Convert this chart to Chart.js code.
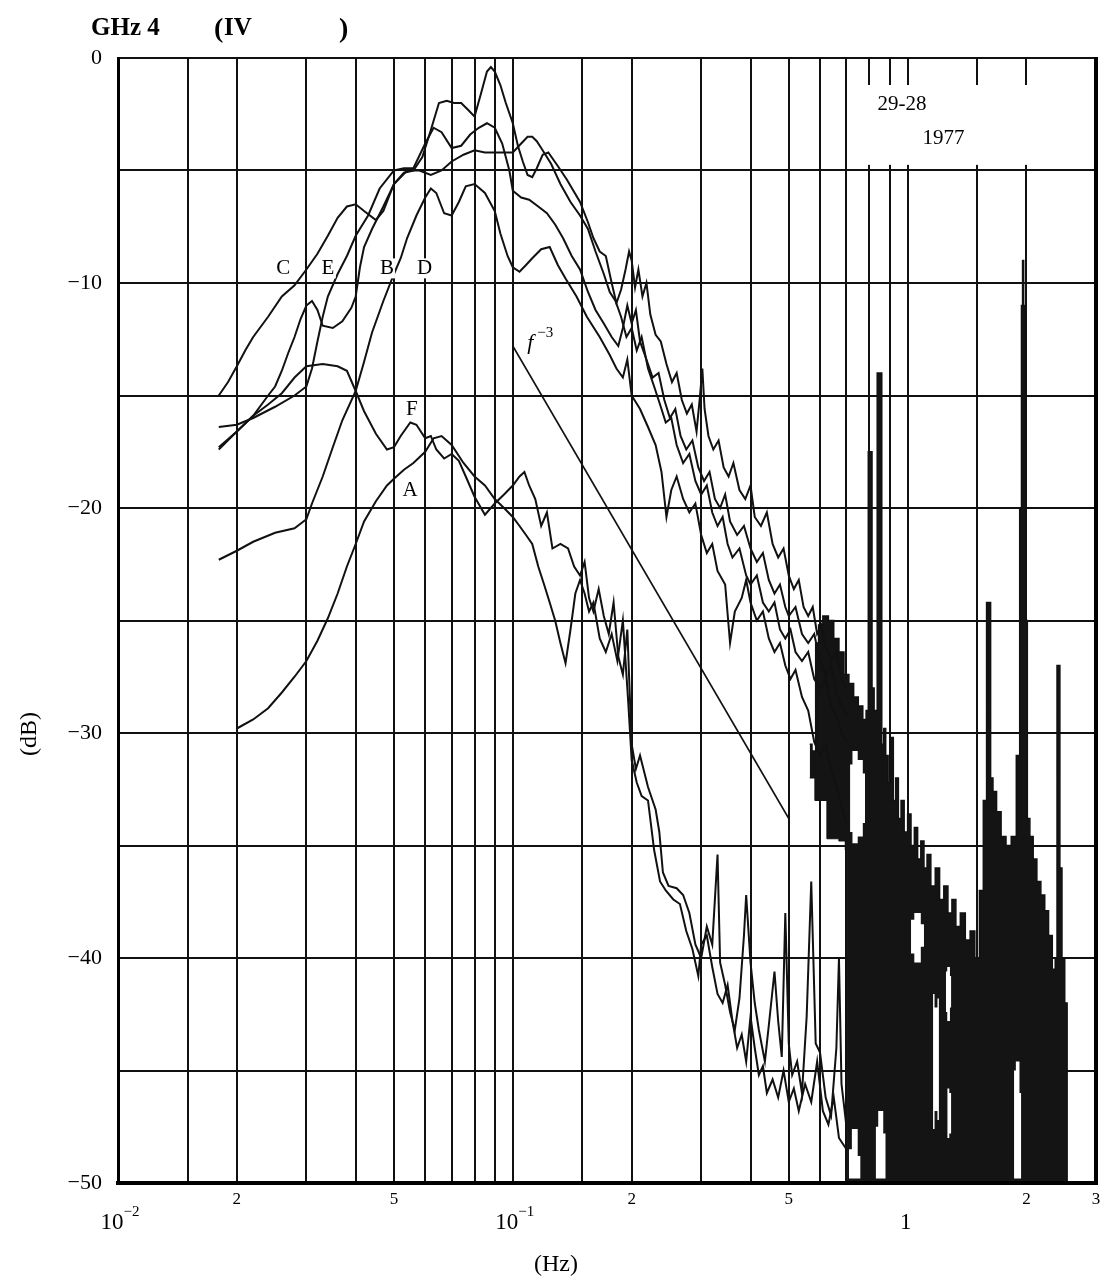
<!DOCTYPE html>
<html>
<head>
<meta charset="utf-8">
<script src="https://cdn.jsdelivr.net/npm/chart.js@4.4.0/dist/chart.umd.min.js"></script>
<style>
  html, body { margin: 0; padding: 0; background: #fff; }
</style>
</head>
<body>
<canvas id="c" width="1105" height="1282"></canvas>
<script>
const serif = '"Liberation Serif", "Times New Roman", serif';

// vertical grid lines (Hz)
const gridFreqs = [0.01,0.015,0.02,0.03,0.04,0.05,0.06,0.07,0.08,0.09,0.1,0.15,0.2,0.3,0.4,0.5,0.6,0.7,0.8,0.9,1,1.5,2,3];
// x tick labels
const xLabelVals = [0.01,0.02,0.05,0.1,0.2,0.5,1,2,3];
const xLabelText = ['10','2','5','10','2','5','1','2','3'];
const xLabelSup  = ['\u22122','','','\u22121','','','','',''];

// spectra [Hz, dB]
const curveC = [[0.018,-15],[0.019,-14.4],[0.02,-13.7],[0.021,-13.0],[0.022,-12.4],[0.024,-11.5],[0.026,-10.6],[0.028,-10.1],[0.03,-9.4],[0.032,-8.7],[0.034,-7.9],[0.036,-7.1],[0.038,-6.6],[0.04,-6.5],[0.042,-6.8],[0.045,-7.2],[0.047,-6.8],[0.05,-5.6],[0.053,-5.1],[0.056,-5.0],[0.059,-4.4],[0.062,-3.2],[0.065,-2.0],[0.068,-1.9],[0.071,-2.0],[0.074,-2.0],[0.077,-2.3],[0.08,-2.6],[0.083,-1.6],[0.086,-0.6],[0.088,-0.4],[0.09,-0.6],[0.093,-1.2],[0.096,-2.0],[0.1,-2.9],[0.103,-3.9],[0.106,-4.6],[0.109,-5.2],[0.112,-5.3],[0.115,-4.9],[0.119,-4.3],[0.123,-4.2],[0.13,-4.8],[0.137,-5.4],[0.148,-6.4],[0.155,-7.3],[0.16,-8.0],[0.166,-8.6],[0.172,-8.8],[0.178,-10.0],[0.183,-10.9],[0.188,-10.3],[0.193,-9.4],[0.197,-8.6],[0.2,-9.0],[0.204,-10.2],[0.208,-9.4],[0.213,-10.6],[0.218,-10.0],[0.223,-11.4],[0.23,-12.3],[0.237,-12.6],[0.245,-13.6],[0.253,-14.4],[0.26,-14.0],[0.268,-15.2],[0.276,-15.8],[0.284,-15.4],[0.292,-16.6],[0.298,-15.0],[0.302,-13.8],[0.306,-15.6],[0.313,-16.8],[0.322,-17.4],[0.332,-17.0],[0.342,-18.2],[0.352,-18.6],[0.362,-18.0],[0.375,-19.2],[0.388,-19.6],[0.4,-19.0],[0.41,-20.4],[0.425,-20.8],[0.44,-20.2],[0.455,-21.6],[0.47,-22.2],[0.485,-21.8],[0.5,-23.0],[0.515,-23.6],[0.53,-23.2],[0.545,-24.4],[0.56,-24.8],[0.575,-24.4],[0.59,-25.6],[0.605,-25.2],[0.62,-26.2],[0.64,-26.8],[0.66,-26.4],[0.68,-27.6],[0.7,-28.0]];
const curveE = [[0.018,-16.4],[0.02,-16.3],[0.022,-16.0],[0.025,-15.5],[0.028,-15.0],[0.03,-14.6],[0.031,-13.8],[0.032,-12.6],[0.033,-11.5],[0.034,-10.6],[0.036,-9.6],[0.038,-8.8],[0.04,-7.9],[0.043,-7.0],[0.046,-5.8],[0.05,-5.0],[0.053,-4.9],[0.056,-4.9],[0.06,-3.8],[0.063,-3.1],[0.066,-3.3],[0.07,-4.0],[0.074,-3.9],[0.078,-3.4],[0.082,-3.1],[0.086,-2.9],[0.09,-3.1],[0.094,-3.8],[0.098,-5.0],[0.1,-5.9],[0.105,-6.2],[0.11,-6.3],[0.116,-6.6],[0.122,-6.9],[0.128,-7.4],[0.134,-8.0],[0.141,-8.8],[0.148,-9.4],[0.155,-10.4],[0.162,-11.2],[0.17,-11.8],[0.178,-12.4],[0.185,-12.8],[0.19,-12.0],[0.195,-11.0],[0.2,-11.8],[0.205,-11.2],[0.21,-12.6],[0.218,-13.4],[0.226,-14.2],[0.234,-14.0],[0.242,-15.2],[0.25,-16.0],[0.258,-15.6],[0.266,-16.8],[0.275,-17.4],[0.285,-17.0],[0.295,-18.2],[0.305,-18.8],[0.315,-18.4],[0.325,-19.6],[0.335,-20.0],[0.345,-19.4],[0.355,-20.6],[0.37,-21.2],[0.385,-20.8],[0.4,-21.8],[0.415,-22.4],[0.43,-22.0],[0.445,-23.2],[0.46,-23.8],[0.475,-23.4],[0.49,-24.4],[0.5,-24.8],[0.52,-24.4],[0.54,-25.6],[0.56,-26.0],[0.58,-25.6],[0.6,-26.8],[0.62,-27.4],[0.64,-27.0],[0.66,-28.2],[0.68,-28.8],[0.7,-29.2]];
const curveD = [[0.018,-17.4],[0.02,-16.6],[0.022,-15.9],[0.024,-15.0],[0.025,-14.6],[0.026,-13.9],[0.027,-13.1],[0.028,-12.4],[0.029,-11.6],[0.03,-11.0],[0.031,-10.8],[0.032,-11.2],[0.033,-11.9],[0.035,-12.0],[0.037,-11.7],[0.039,-11.1],[0.04,-10.6],[0.041,-9.3],[0.042,-8.4],[0.044,-7.6],[0.047,-6.6],[0.05,-5.6],[0.054,-5.0],[0.058,-5.0],[0.062,-5.2],[0.066,-5.0],[0.07,-4.6],[0.075,-4.3],[0.08,-4.1],[0.085,-4.2],[0.09,-4.2],[0.095,-4.2],[0.1,-4.2],[0.105,-3.8],[0.109,-3.5],[0.112,-3.5],[0.115,-3.7],[0.118,-4.0],[0.125,-4.7],[0.132,-5.6],[0.14,-6.4],[0.148,-7.0],[0.155,-7.6],[0.162,-8.6],[0.17,-9.6],[0.176,-10.4],[0.182,-10.8],[0.188,-11.5],[0.194,-12.4],[0.2,-12.0],[0.206,-13.0],[0.212,-12.4],[0.22,-13.8],[0.228,-14.6],[0.236,-15.4],[0.244,-16.2],[0.252,-16.0],[0.26,-17.2],[0.27,-18.0],[0.28,-17.6],[0.29,-18.8],[0.3,-19.4],[0.31,-19.0],[0.32,-20.2],[0.33,-20.8],[0.34,-20.4],[0.35,-21.6],[0.36,-22.2],[0.375,-21.8],[0.39,-23.0],[0.4,-23.4],[0.415,-23.0],[0.43,-24.2],[0.445,-24.6],[0.46,-24.2],[0.475,-25.4],[0.49,-25.8],[0.505,-25.4],[0.52,-26.4],[0.54,-26.8],[0.56,-26.4],[0.58,-27.6],[0.6,-28.0],[0.62,-27.6],[0.64,-28.8],[0.66,-29.2],[0.68,-30.0],[0.7,-30.4]];
const curveB = [[0.018,-22.3],[0.02,-21.9],[0.022,-21.5],[0.025,-21.1],[0.028,-20.9],[0.03,-20.5],[0.031,-19.8],[0.033,-18.6],[0.035,-17.3],[0.037,-16.1],[0.04,-14.8],[0.042,-13.5],[0.044,-12.2],[0.047,-10.8],[0.05,-9.6],[0.052,-8.9],[0.054,-8.0],[0.057,-7.0],[0.06,-6.2],[0.062,-5.8],[0.064,-6.0],[0.067,-6.9],[0.07,-7.0],[0.073,-6.4],[0.076,-5.7],[0.08,-5.6],[0.085,-6.0],[0.09,-6.8],[0.093,-7.8],[0.097,-8.8],[0.1,-9.3],[0.104,-9.5],[0.108,-9.2],[0.112,-8.9],[0.118,-8.5],[0.124,-8.4],[0.13,-9.2],[0.136,-9.8],[0.145,-10.6],[0.154,-11.5],[0.166,-12.4],[0.176,-13.2],[0.183,-13.8],[0.19,-14.2],[0.195,-13.4],[0.2,-15.0],[0.21,-15.6],[0.22,-16.4],[0.23,-17.2],[0.238,-18.4],[0.245,-20.4],[0.252,-19.2],[0.26,-18.6],[0.27,-19.6],[0.28,-20.2],[0.29,-19.8],[0.3,-21.2],[0.31,-22.0],[0.32,-21.6],[0.33,-22.8],[0.345,-23.4],[0.355,-26.0],[0.365,-24.6],[0.38,-24.0],[0.39,-23.2],[0.4,-24.2],[0.415,-25.0],[0.43,-24.6],[0.445,-25.8],[0.46,-26.4],[0.475,-26.0],[0.49,-27.0],[0.505,-27.6],[0.52,-27.2],[0.54,-28.4],[0.56,-29.0],[0.58,-30.4],[0.6,-31.0],[0.62,-30.6],[0.64,-31.6],[0.66,-32.4],[0.68,-33.2],[0.7,-34.0]];
const curveF = [[0.018,-17.3],[0.02,-16.6],[0.022,-15.9],[0.024,-15.4],[0.026,-14.9],[0.028,-14.2],[0.03,-13.7],[0.033,-13.6],[0.036,-13.7],[0.038,-13.9],[0.04,-14.8],[0.042,-15.7],[0.045,-16.7],[0.048,-17.4],[0.05,-17.3],[0.052,-16.8],[0.055,-16.2],[0.057,-16.3],[0.06,-16.9],[0.062,-16.8],[0.064,-17.4],[0.067,-17.8],[0.07,-17.6],[0.073,-17.9],[0.076,-18.6],[0.08,-19.5],[0.085,-20.3],[0.09,-19.8],[0.095,-19.4],[0.1,-19.0],[0.104,-18.6],[0.107,-18.4],[0.11,-19.0],[0.114,-19.6],[0.118,-20.8],[0.122,-20.2],[0.126,-21.8],[0.132,-21.6],[0.138,-21.8],[0.143,-22.6],[0.148,-23.0],[0.152,-22.4],[0.156,-24.0],[0.16,-24.6],[0.165,-23.6],[0.17,-24.8],[0.175,-25.6],[0.18,-24.2],[0.185,-26.6],[0.19,-27.4],[0.195,-25.4],[0.2,-30.5],[0.205,-31.6],[0.21,-31.0],[0.22,-32.4],[0.23,-33.4],[0.235,-34.4],[0.24,-36.2],[0.248,-36.8],[0.26,-36.9],[0.27,-37.2],[0.28,-38.0],[0.29,-39.4],[0.3,-40.0],[0.31,-38.6],[0.32,-39.4],[0.33,-35.4],[0.335,-40.2],[0.345,-41.2],[0.355,-42.4],[0.365,-43.2],[0.375,-41.8],[0.385,-39.0],[0.39,-37.2],[0.4,-40.2],[0.41,-42.0],[0.42,-43.2],[0.435,-44.6],[0.445,-43.0],[0.46,-40.6],[0.47,-42.8],[0.48,-44.4],[0.49,-38.0],[0.5,-43.8],[0.51,-45.2],[0.525,-44.6],[0.54,-46.0],[0.555,-42.6],[0.57,-36.6],[0.585,-43.8],[0.6,-44.2],[0.62,-46.2],[0.64,-47.0],[0.66,-44.0],[0.67,-40.0],[0.68,-45.6],[0.7,-47.5]];
const curveA = [[0.02,-29.8],[0.022,-29.4],[0.024,-28.9],[0.026,-28.2],[0.028,-27.5],[0.03,-26.8],[0.032,-25.9],[0.034,-24.9],[0.036,-23.8],[0.038,-22.6],[0.04,-21.6],[0.042,-20.6],[0.045,-19.7],[0.048,-19.0],[0.05,-18.7],[0.053,-18.3],[0.056,-18.0],[0.06,-17.5],[0.063,-16.9],[0.066,-16.8],[0.07,-17.2],[0.075,-18.0],[0.08,-18.6],[0.085,-19.0],[0.09,-19.6],[0.095,-20.0],[0.1,-20.4],[0.104,-20.8],[0.108,-21.2],[0.112,-21.6],[0.116,-22.6],[0.12,-23.4],[0.124,-24.2],[0.128,-25.0],[0.132,-26.0],[0.136,-26.9],[0.14,-25.4],[0.144,-23.8],[0.148,-23.2],[0.152,-23.8],[0.156,-24.6],[0.16,-24.2],[0.166,-25.8],[0.172,-26.4],[0.178,-25.6],[0.184,-26.8],[0.19,-25.0],[0.196,-28.6],[0.2,-31.2],[0.206,-32.2],[0.212,-32.8],[0.22,-33.0],[0.228,-35.2],[0.236,-36.6],[0.244,-37.0],[0.255,-37.4],[0.265,-37.6],[0.275,-38.8],[0.285,-39.6],[0.295,-40.8],[0.3,-39.4],[0.31,-39.0],[0.32,-40.4],[0.33,-41.6],[0.34,-42.0],[0.35,-41.2],[0.36,-42.8],[0.37,-44.0],[0.38,-43.4],[0.39,-44.6],[0.4,-42.6],[0.41,-44.0],[0.42,-45.2],[0.43,-44.8],[0.44,-46.0],[0.455,-45.4],[0.47,-46.2],[0.485,-45.0],[0.5,-46.4],[0.515,-45.8],[0.53,-46.8],[0.55,-45.6],[0.57,-46.4],[0.59,-44.6],[0.61,-46.8],[0.63,-47.4],[0.65,-46.2],[0.67,-48.0],[0.7,-48.5]];

// f^-3 reference line
const slopeLine = [[0.1,-12.8],[0.5,-33.8]];

// dense high-frequency part: upper and lower envelope
const bandTop = [[0.565,-30.5],[0.58,-30.8],[0.59,-26.0],[0.6,-25.2],[0.62,-24.8],[0.64,-25.0],[0.66,-25.8],[0.68,-26.4],[0.7,-27.4],[0.72,-27.8],[0.74,-28.4],[0.76,-28.8],[0.78,-29.4],[0.79,-29.0],[0.8,-17.5],[0.81,-17.5],[0.815,-28.0],[0.83,-29.0],[0.845,-14.0],[0.855,-14.0],[0.865,-30.5],[0.875,-29.8],[0.885,-31.0],[0.9,-32.2],[0.915,-30.2],[0.925,-33.0],[0.94,-32.0],[0.955,-33.8],[0.97,-33.0],[0.99,-34.4],[1.01,-33.6],[1.03,-35.0],[1.05,-34.2],[1.07,-35.6],[1.09,-34.8],[1.11,-36.0],[1.13,-35.4],[1.16,-36.8],[1.19,-36.0],[1.22,-37.4],[1.25,-36.8],[1.28,-38.0],[1.31,-37.4],[1.34,-38.6],[1.38,-38.0],[1.42,-39.2],[1.46,-38.8],[1.5,-40.0],[1.54,-37.0],[1.57,-33.0],[1.6,-24.2],[1.615,-24.2],[1.63,-32.0],[1.66,-32.6],[1.7,-33.5],[1.75,-34.6],[1.8,-35.0],[1.86,-34.6],[1.91,-31.0],[1.935,-20.0],[1.95,-11.0],[1.96,-9.0],[1.975,-11.0],[1.99,-17.0],[2.0,-25.0],[2.02,-33.8],[2.06,-34.6],[2.1,-35.6],[2.15,-36.6],[2.2,-37.2],[2.25,-37.9],[2.3,-39.0],[2.35,-40.5],[2.38,-40.0],[2.4,-27.0],[2.42,-27.0],[2.44,-36.0],[2.48,-40.0],[2.52,-42.0],[2.55,-50.0]];
const bandBottom = [[0.565,-32.0],[0.6,-33.0],[0.65,-34.7],[0.69,-34.8],[0.7,-35.2],[0.705,-50.0],[2.55,-50.0]];

// white gaps inside the dense part: [top edge, bottom edge]
const holes = [
  [[[0.715,-31.4],[0.735,-30.8],[0.76,-31.2],[0.78,-31.8]], [[0.715,-34.4],[0.735,-34.9],[0.76,-34.6],[0.78,-34.0]]],
  [[[1.02,-38.3],[1.06,-38.0],[1.1,-38.5]], [[1.02,-39.8],[1.06,-40.2],[1.1,-39.5]]],
  [[[1.25,-40.6],[1.27,-40.4],[1.29,-40.8]], [[1.25,-42.4],[1.27,-42.8],[1.29,-42.2]]],
  [[[1.16,-41.6],[1.18,-42.2],[1.2,-41.8]], [[1.16,-47.6],[1.18,-46.8],[1.2,-47.2]]],
  [[[1.26,-45.8],[1.29,-46.0]], [[1.26,-48.0],[1.29,-47.8]]],
  [[[1.86,-45.0],[1.9,-44.6],[1.94,-46.0]], [[1.86,-49.8],[1.9,-49.8],[1.94,-49.8]]],
  [[[0.83,-47.5],[0.855,-46.8],[0.88,-47.8]], [[0.83,-49.8],[0.855,-49.8],[0.88,-49.8]]],
  [[[0.71,-48.5],[0.735,-47.6],[0.76,-48.8]], [[0.71,-49.8],[0.735,-49.8],[0.76,-49.8]]]
];

// curve labels [Hz, dB, text]
const curveLabels = [[0.0262,-9.35,'C'],[0.034,-9.35,'E'],[0.048,-9.35,'B'],[0.0598,-9.35,'D'],[0.0555,-15.6,'F'],[0.0549,-19.2,'A']];
const slopeLabelAt = [0.1113, -12.6];

const pts = arr => arr.map(p => ({ x: p[0], y: p[1] }));
const lineSet = arr => ({ data: pts(arr), borderColor: '#111', borderWidth: 2, pointRadius: 0, tension: 0, fill: false });

const holeSets = [];
holes.forEach(h => {
  holeSets.push({ data: pts(h[1]), borderWidth: 0, pointRadius: 0, stepped: 'middle', fill: false });
  holeSets.push({ data: pts(h[0]), borderWidth: 0, pointRadius: 0, stepped: 'middle', fill: '-1', backgroundColor: '#fff' });
});

const decor = {
  id: 'decor',
  beforeDatasetsDraw(chart) {
    const { ctx, scales: { x, y }, chartArea } = chart;
    // note box
    const l = x.getPixelForValue(0.7) + 3, r = chartArea.right - 3;
    const t = y.getPixelForValue(-1.2), b = y.getPixelForValue(-4.75);
    ctx.save();
    ctx.fillStyle = '#fff';
    ctx.fillRect(l, t, r - l, b - t);
    ctx.fillStyle = '#000';
    ctx.font = '21px ' + serif;
    ctx.textBaseline = 'alphabetic';
    ctx.textAlign = 'left';
    ctx.fillText('29-28', l + 28, t + 25);
    ctx.fillText('1977', l + 73, t + 59);
    ctx.restore();
  },
  afterDraw(chart) {
    const { ctx, scales: { x, y }, chartArea } = chart;
    ctx.save();
    ctx.fillStyle = '#000';
    ctx.strokeStyle = '#000';
    // right and bottom border
    ctx.lineWidth = 4;
    ctx.beginPath();
    ctx.moveTo(chartArea.right, chartArea.top - 1);
    ctx.lineTo(chartArea.right, chartArea.bottom + 2);
    ctx.moveTo(chartArea.left, chartArea.bottom);
    ctx.lineTo(chartArea.right, chartArea.bottom);
    ctx.stroke();

    // x tick labels
    ctx.textBaseline = 'middle';
    xLabelVals.forEach((v, i) => {
      const px = x.getPixelForValue(v);
      const txt = xLabelText[i], sup = xLabelSup[i];
      if (sup) {
        ctx.font = '23px ' + serif;
        const w = ctx.measureText(txt).width;
        ctx.font = '15px ' + serif;
        const ws = ctx.measureText(sup).width;
        const x0 = px - (w + ws) / 2 + 2;
        ctx.textAlign = 'left';
        ctx.font = '23px ' + serif;
        ctx.fillText(txt, x0, 1223);
        ctx.font = '15px ' + serif;
        ctx.fillText(sup, x0 + w, 1212);
      } else if (txt === '1') {
        ctx.textAlign = 'center';
        ctx.font = '23px ' + serif;
        ctx.fillText(txt, px - 2, 1223);
      } else {
        ctx.textAlign = 'center';
        ctx.font = '17px ' + serif;
        ctx.fillText(txt, px, 1200);
      }
    });

    // axis titles
    ctx.textAlign = 'center';
    ctx.font = '24px ' + serif;
    ctx.fillText('(Hz)', 556, 1265);
    ctx.save();
    ctx.translate(30, 734);
    ctx.rotate(-Math.PI / 2);
    ctx.fillText('(dB)', 0, 0);
    ctx.restore();

    // title
    ctx.textAlign = 'left';
    ctx.textBaseline = 'alphabetic';
    ctx.font = 'bold 25px ' + serif;
    ctx.fillText('GHz 4', 91, 35);
    ctx.font = 'bold 28px ' + serif;
    ctx.fillText('(', 214, 37);
    ctx.font = 'bold 25px ' + serif;
    ctx.fillText('IV', 224, 35);
    ctx.font = 'bold 28px ' + serif;
    ctx.fillText(')', 339, 37);

    // curve labels
    ctx.font = '21px ' + serif;
    ctx.textAlign = 'center';
    ctx.textBaseline = 'middle';
    curveLabels.forEach(([f, db, t]) => {
      const px = x.getPixelForValue(f), py = y.getPixelForValue(db);
      ctx.fillStyle = '#fff';
      ctx.fillRect(px - 8, py - 10, 16, 20);
      ctx.fillStyle = '#000';
      ctx.fillText(t, px, py);
    });
    const sx = x.getPixelForValue(slopeLabelAt[0]), sy = y.getPixelForValue(slopeLabelAt[1]);
    ctx.textAlign = 'left';
    ctx.font = 'italic 22px ' + serif;
    ctx.fillText('f', sx - 4, sy + 2);
    ctx.font = '15px ' + serif;
    ctx.fillText('\u22123', sx + 6, sy - 8);
    ctx.restore();
  }
};

new Chart(document.getElementById('c'), {
  type: 'line',
  data: {
    datasets: [
      lineSet(curveC), lineSet(curveE), lineSet(curveD), lineSet(curveB),
      lineSet(curveF), lineSet(curveA),
      Object.assign(lineSet(slopeLine), { borderWidth: 1.6 }),
      ...holeSets,
      { data: pts(bandBottom), borderColor: '#111', borderWidth: 1, pointRadius: 0, stepped: 'middle', fill: false },
      { data: pts(bandTop), borderColor: '#111', borderWidth: 1.5, pointRadius: 0, stepped: 'middle',
        fill: '-1', backgroundColor: '#141414' }
    ]
  },
  options: {
    responsive: false,
    animation: false,
    devicePixelRatio: 1,
    layout: { padding: { top: 58, right: 9, left: 0, bottom: 0 } },
    plugins: { legend: { display: false }, tooltip: { enabled: false } },
    scales: {
      x: {
        type: 'logarithmic', min: 0.01, max: 3,
        afterBuildTicks: s => { s.ticks = gridFreqs.map(v => ({ value: v })); },
        afterFit: s => { s.height = 99; },
        ticks: { autoSkip: false, maxRotation: 0, callback: () => '' },
        grid: { color: '#111', lineWidth: 2, drawTicks: false },
        border: { color: '#000', width: 4 }
      },
      y: {
        min: -50, max: 0,
        afterFit: s => { s.width = 118; },
        ticks: {
          stepSize: 5, padding: 16, color: '#000',
          font: { family: serif, size: 22 },
          callback: v => v % 10 === 0 ? (v < 0 ? '\u2212' + (-v) : '0') : ''
        },
        grid: { color: '#111', lineWidth: 2, drawTicks: false },
        border: { color: '#000', width: 3 }
      }
    }
  },
  plugins: [decor]
});
</script>
</body>
</html>
